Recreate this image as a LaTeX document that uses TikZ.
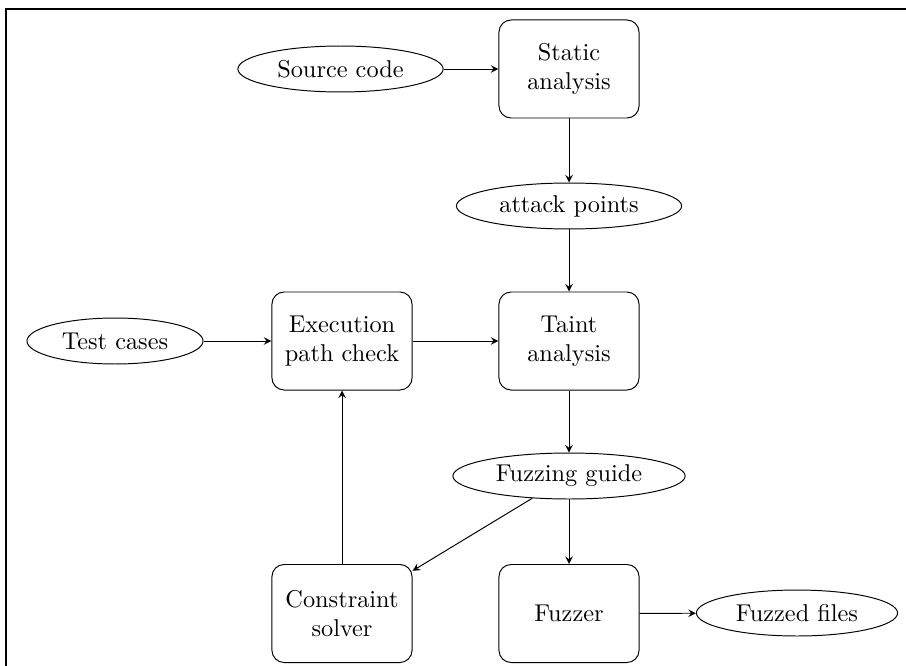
\documentclass[tikz,border=0pt]{standalone}
\usetikzlibrary{shapes.geometric,arrows.meta}
\begin{document}
\begin{tikzpicture}[x=0.014451cm,y=-0.014451cm,
  box/.style={draw,rounded corners=5pt,align=center,
    minimum width=57.6pt,minimum height=40.3pt,inner sep=2pt},
  oval/.style={draw,ellipse,inner sep=0pt,minimum height=18.9pt},
  link/.style={-stealth}]
\useasboundingbox (0,0) rectangle (906,665);
% outer frame
\draw[line width=0.8pt] (6,700) |- (940,9);

% process boxes
\node[box] (static) at (569,69)    {Static\\analysis};
\node[box] (taint)  at (569,341)   {Taint\\analysis};
\node[box] (exec)   at (342,341)   {Execution\\path check};
\node[box] (solver) at (342,613.5) {Constraint\\solver};
\node[box] (fuzzer) at (569,613.5) {Fuzzer};

% data ellipses
\node[oval,minimum width=84.4pt] (src)    at (340.5,69) {Source code};
\node[oval,minimum width=92.6pt] (attack) at (569,206)  {attack points};
\node[oval,minimum width=72.4pt] (tests)  at (115,341)  {Test cases};
\node[oval,minimum width=95.5pt] (guide)  at (569,476)  {Fuzzing guide};
\node[oval,minimum width=82.7pt] (fuzzed) at (797,613)  {Fuzzed files};

% connectors
\draw[link] (src) -- (static);
\draw[link] (static) -- (attack);
\draw[link] (attack) -- (taint);
\draw[link] (tests) -- (exec);
\draw[link] (exec) -- (taint);
\draw[link] (taint) -- (guide);
\draw[link] (guide) -- (fuzzer);
\draw[link] (guide) -- (solver);
\draw[link] (solver) -- (exec);
\draw[link] (fuzzer) -- (fuzzed);
\end{tikzpicture}
\end{document}
